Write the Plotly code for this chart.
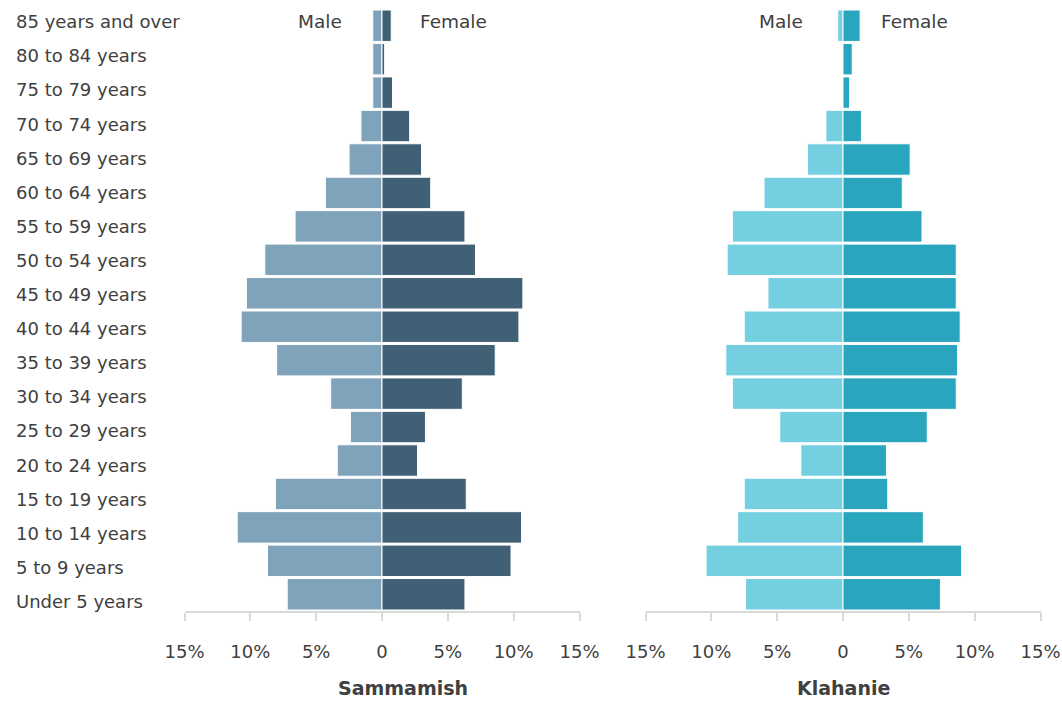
import plotly.graph_objects as go

# age groups, top to bottom as in the picture
ages = ["85 years and over", "80 to 84 years", "75 to 79 years", "70 to 74 years",
        "65 to 69 years", "60 to 64 years", "55 to 59 years", "50 to 54 years",
        "45 to 49 years", "40 to 44 years", "35 to 39 years", "30 to 34 years",
        "25 to 29 years", "20 to 24 years", "15 to 19 years", "10 to 14 years",
        "5 to 9 years", "Under 5 years"]

# percent of population
sammamish_male = [0.7, 0.7, 0.7, 1.6, 2.5, 4.3, 6.6, 8.9, 10.3, 10.7,
                  8.0, 3.9, 2.4, 3.4, 8.1, 11.0, 8.7, 7.2]
sammamish_female = [0.7, 0.2, 0.8, 2.1, 3.0, 3.7, 6.3, 7.1, 10.7, 10.4,
                    8.6, 6.1, 3.3, 2.7, 6.4, 10.6, 9.8, 6.3]
klahanie_male = [0.4, 0.0, 0.0, 1.3, 2.7, 6.0, 8.4, 8.8, 5.7, 7.5,
                 8.9, 8.4, 4.8, 3.2, 7.5, 8.0, 10.4, 7.4]
klahanie_female = [1.3, 0.7, 0.5, 1.4, 5.1, 4.5, 6.0, 8.6, 8.6, 8.9,
                   8.7, 8.6, 6.4, 3.3, 3.4, 6.1, 9.0, 7.4]

tick_vals = [-15, -10, -5, 0, 5, 10, 15]
tick_text = ["15%", "10%", "5%", "0", "5%", "10%", "15%"]

font_name = "DejaVu Sans"
txt_col = "#404040"
W = 1062.0
H = 702.0
top, bottom = 9.3, 610.7   # plot area in pixels

fig = go.Figure()

# Sammamish
fig.add_trace(go.Bar(y=ages, x=[-v for v in sammamish_male], orientation="h",
                     marker=dict(color="#7FA3BB", line=dict(color="white", width=1)),
                     xaxis="x", yaxis="y", hoverinfo="skip"))
fig.add_trace(go.Bar(y=ages, x=sammamish_female, orientation="h",
                     marker=dict(color="#406075", line=dict(color="white", width=1)),
                     xaxis="x", yaxis="y", hoverinfo="skip"))
# Klahanie
fig.add_trace(go.Bar(y=ages, x=[-v for v in klahanie_male], orientation="h",
                     marker=dict(color="#74CFE0", line=dict(color="white", width=1)),
                     xaxis="x2", yaxis="y2", hoverinfo="skip"))
fig.add_trace(go.Bar(y=ages, x=klahanie_female, orientation="h",
                     marker=dict(color="#29A5BD", line=dict(color="white", width=1)),
                     xaxis="x2", yaxis="y2", hoverinfo="skip"))

xax = dict(range=[-15, 15], tickvals=tick_vals, ticktext=tick_text,
           showgrid=False, zeroline=False, showline=True, linecolor="#d9d9d9",
           linewidth=2, ticks="outside", ticklen=8, tickcolor="#d9d9d9", tickwidth=2,
           ticklabelstandoff=15, tickfont=dict(size=18, color=txt_col, family=font_name),
           automargin=False, fixedrange=True)
yax = dict(categoryorder="array", categoryarray=ages[::-1], range=[-0.5, 17.5],
           showticklabels=False, showgrid=False, zeroline=False, showline=False,
           ticks="", automargin=False, fixedrange=True)

fig.update_layout(
    width=W, height=H,
    margin=dict(l=0, r=0, t=top, b=H - bottom, autoexpand=False),
    paper_bgcolor="white", plot_bgcolor="white",
    showlegend=False, barmode="relative", bargap=0.06,
    font=dict(family=font_name, color=txt_col),
    xaxis=dict(xax, domain=[184.5 / W, 579.5 / W], anchor="y"),
    xaxis2=dict(xax, domain=[645.5 / W, 1040.5 / W], anchor="y2"),
    yaxis=dict(yax, anchor="x"),
    yaxis2=dict(yax, anchor="x2", matches="y"),
)

# age labels on the left (label spacing is a bit wider than the bars in the original)
for i, a in enumerate(ages):
    fig.add_annotation(x=14 / W, xref="paper", y=a, yref="y", text=a, showarrow=False,
                       xanchor="left", yshift=4 - 0.66 * i,
                       font=dict(size=18, color=txt_col, family=font_name))

# Male / Female headers
for xr, yr in [("x", "y"), ("x2", "y2")]:
    fig.add_annotation(x=-4.7, y=ages[0], xref=xr, yref=yr, text="Male", showarrow=False,
                       yshift=4, font=dict(size=18.5, color=txt_col, family=font_name))
    fig.add_annotation(x=5.4, y=ages[0], xref=xr, yref=yr, text="Female", showarrow=False,
                       yshift=4, font=dict(size=18.5, color=txt_col, family=font_name))

# panel titles under the axes (paper y is measured on the plot area)
title_y = (bottom - 688) / (bottom - top)
fig.add_annotation(x=1.6, xref="x", y=title_y, yref="paper", yanchor="middle",
                   text="<b>Sammamish</b>", showarrow=False,
                   font=dict(size=19, color=txt_col, family=font_name))
fig.add_annotation(x=0, xref="x2", y=title_y, yref="paper", yanchor="middle",
                   text="<b>Klahanie</b>", showarrow=False,
                   font=dict(size=19, color=txt_col, family=font_name))

# drop the default page margin so the figure sits at the window corner
fig.write_html("out.html", config={"displayModeBar": False},
               post_script="document.body.style.margin='0';")
